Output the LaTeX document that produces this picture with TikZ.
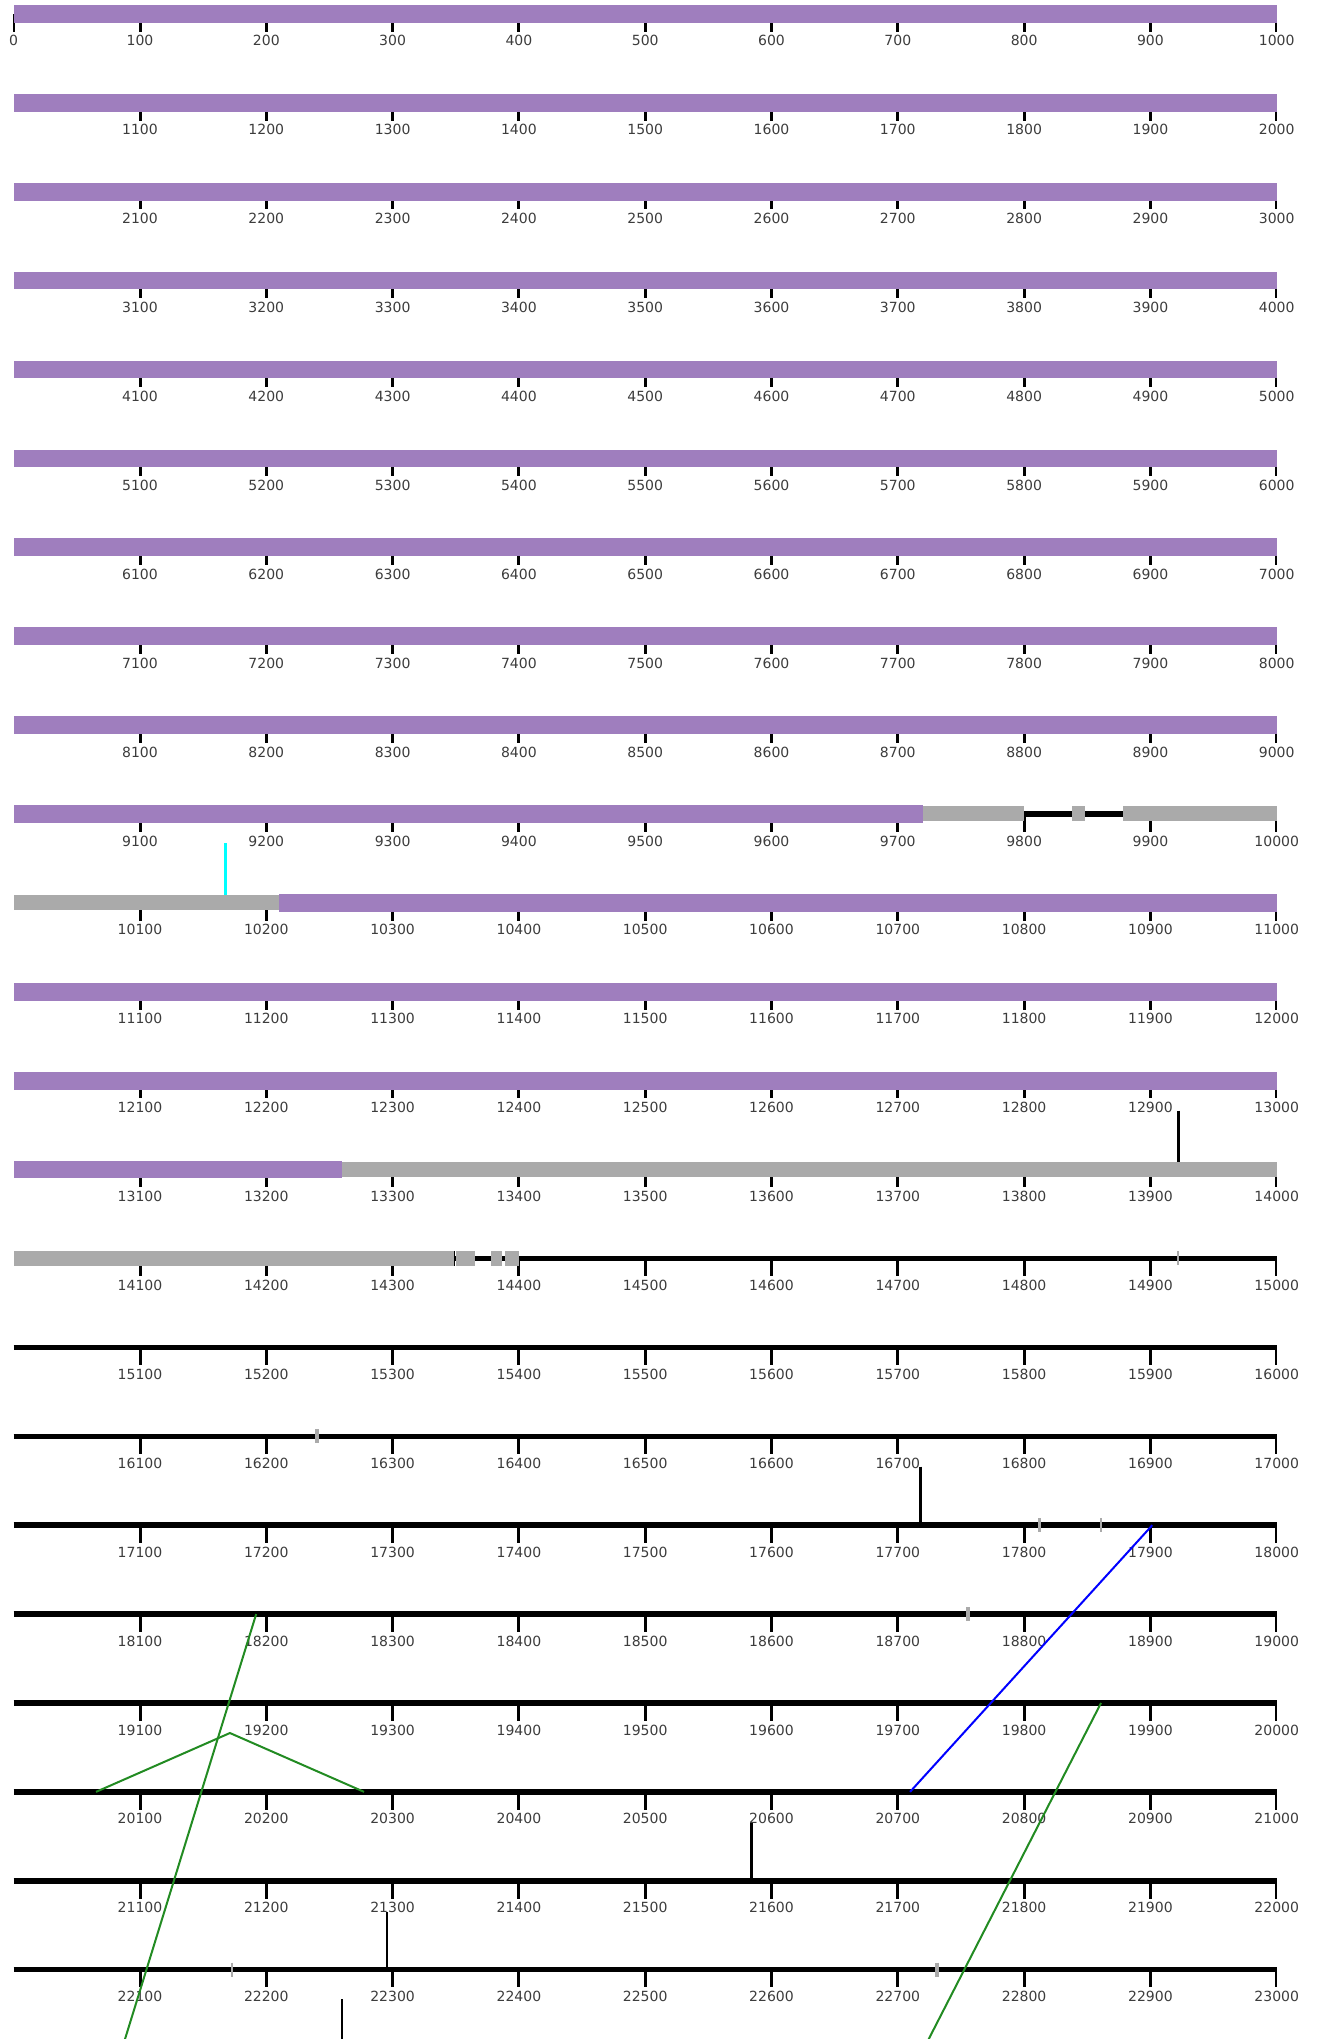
\documentclass[tikz,border=0pt]{standalone}
\usepackage{fontspec}
\setmainfont{DejaVu Sans}
\definecolor{purplebarc}{RGB}{159,126,190}
\definecolor{graybarc}{RGB}{170,170,170}
\definecolor{lblc}{RGB}{60,60,60}
\definecolor{greenc}{RGB}{34,139,34}
\definecolor{cyanc}{RGB}{0,255,255}
\newcommand\ux[1]{13.7+1.263*(#1)}
\newcommand\ry[1]{13.85+88.9*(#1-1)}
\newcommand\pbar[3]{\fill[purplebar] ({\ux{#2}},{\ry{#1}-8.85}) rectangle ({\ux{#3}},{\ry{#1}+8.85});}
\newcommand\gbar[3]{\fill[graybar] ({\ux{#2}},{\ry{#1}-7.5}) rectangle ({\ux{#3}},{\ry{#1}+7.5});}
\newcommand\bline[3]{\draw[axisline] ({\ux{#2}},{\ry{#1}}) -- ({\ux{#3}},{\ry{#1}});}
\newcommand\gmark[3]{\draw[graymark, line width=#3] ({\ux{#2}},{\ry{#1}-7}) -- ({\ux{#2}},{\ry{#1}+7});}
\begin{document}
\begin{tikzpicture}[x=1pt,y=-1pt,
  purplebar/.style={fill=purplebarc},
  graybar/.style={fill=graybarc},
  axisline/.style={draw=black,line width=5.5pt},
  tickmark/.style={draw=black,line width=3pt},
  endtick/.style={draw=black,line width=2.3pt},
  graymark/.style={draw=graybarc},
  feat/.style={draw=black,line width=2.5pt},
  lbl/.style={text=lblc,font=\fontsize{14}{16}\selectfont,inner sep=0pt},
  glink/.style={draw=greenc,line width=2pt},
  blink/.style={draw=blue,line width=2pt},
  cyanline/.style={draw=cyanc,line width=3pt}]
\useasboundingbox (0,0) rectangle (1318,2039);
% ticks and labels
\foreach \r in {1,...,23}{
  \foreach \k in {1,...,9}{
    \draw[tickmark] ({\ux{100*\k}},{\ry{\r}}) -- ({\ux{100*\k}},{\ry{\r}+17.8});
  }
  \draw[endtick] ({\ux{1000}-0.4},{\ry{\r}}) -- ({\ux{1000}-0.4},{\ry{\r}+17.8});
  \foreach \k in {1,...,10}{
    \node[lbl] (l-\r-\k) at ({\ux{100*\k}},{\ry{\r}+27}) {\the\numexpr(\r-1)*1000+100*\k\relax};
  }
}
\draw[endtick] ({\ux{0}},{\ry{1}}) -- ({\ux{0}},{\ry{1}+17.8});
\node[lbl] (l-1-0) at ({\ux{0}},{\ry{1}+27}) {0};
% rows with purple
\foreach \r in {1,...,9}{\pbar{\r}{0}{1000}}
\pbar{10}{0}{720}
\gbar{10}{720}{800}
\bline{10}{800}{878}
\gbar{10}{838}{848}
\gbar{10}{878}{1000}
\gbar{11}{0}{210}
\pbar{11}{210}{1000}
\pbar{12}{0}{1000}
\pbar{13}{0}{1000}
\pbar{14}{0}{260}
\gbar{14}{260}{1000}
% row 15
\bline{15}{349}{1000}
\gbar{15}{0}{349}
\gbar{15}{350.3}{365.2}
\gbar{15}{377.9}{386.7}
\gbar{15}{389.1}{400}
\draw[black,line width=1pt] ({\ux{349.3}},{\ry{15}-7.5}) -- ({\ux{349.3}},{\ry{15}+7.5});
\gmark{15}{922}{1.5pt}
% black rows
\foreach \r in {16,...,23}{\bline{\r}{0}{1000}}
\gmark{17}{240}{4pt}
\gmark{18}{812}{2.5pt}
\gmark{18}{861}{2.5pt}
\gmark{19}{755.5}{4pt}
\gmark{23}{173}{1.5pt}
\gmark{23}{731}{4pt}
% vertical features
\coordinate (c1) at ({\ux{167.5}},843.3);
\coordinate (c2) at ({\ux{167.5}},{\ry{11}-7.5});
\draw[cyanline] (c1) -- (c2);
\coordinate (v1a) at ({\ux{922.3}},1110.7);
\coordinate (v1b) at ({\ux{922.3}},{\ry{14}-7.5});
\draw[feat] (v1a) -- (v1b);
\coordinate (v2a) at ({\ux{718}},1466.7);
\coordinate (v2b) at ({\ux{718}},{\ry{18}});
\draw[feat] (v2a) -- (v2b);
\coordinate (v3a) at ({\ux{584.3}},1822.7);
\coordinate (v3b) at ({\ux{584.3}},{\ry{22}});
\draw[feat] (v3a) -- (v3b);
\coordinate (v4a) at ({\ux{295.5}},1911.7);
\coordinate (v4b) at ({\ux{295.5}},{\ry{23}});
\draw[feat] (v4a) -- (v4b);
\coordinate (v5a) at ({\ux{259.8}},1999.3);
\coordinate (v5b) at ({\ux{259.8}},2045);
\draw[feat] (v5a) -- (v5b);
% links
\coordinate (b1) at ({\ux{901.5}},{\ry{18}});
\coordinate (b2) at ({\ux{709.7}},{\ry{21}});
\draw[blink] (b1) -- (b2);
\coordinate (g1a) at ({\ux{192}},{\ry{19}});
\coordinate (g1b) at (119,{\ry{24}});
\draw[glink] (g1a) -- (g1b);
\coordinate (g2a) at ({\ux{65.2}},{\ry{21}});
\coordinate (g2b) at ({\ux{171.2}},1733);
\coordinate (g2c) at ({\ux{277.4}},{\ry{21}});
\draw[glink] (g2a) -- (g2b) -- (g2c);
\coordinate (g3a) at ({\ux{860.9}},{\ry{20}});
\coordinate (g3b) at (918.7,{\ry{24}});
\draw[glink] (g3a) -- (g3b);
\end{tikzpicture}
\end{document}
